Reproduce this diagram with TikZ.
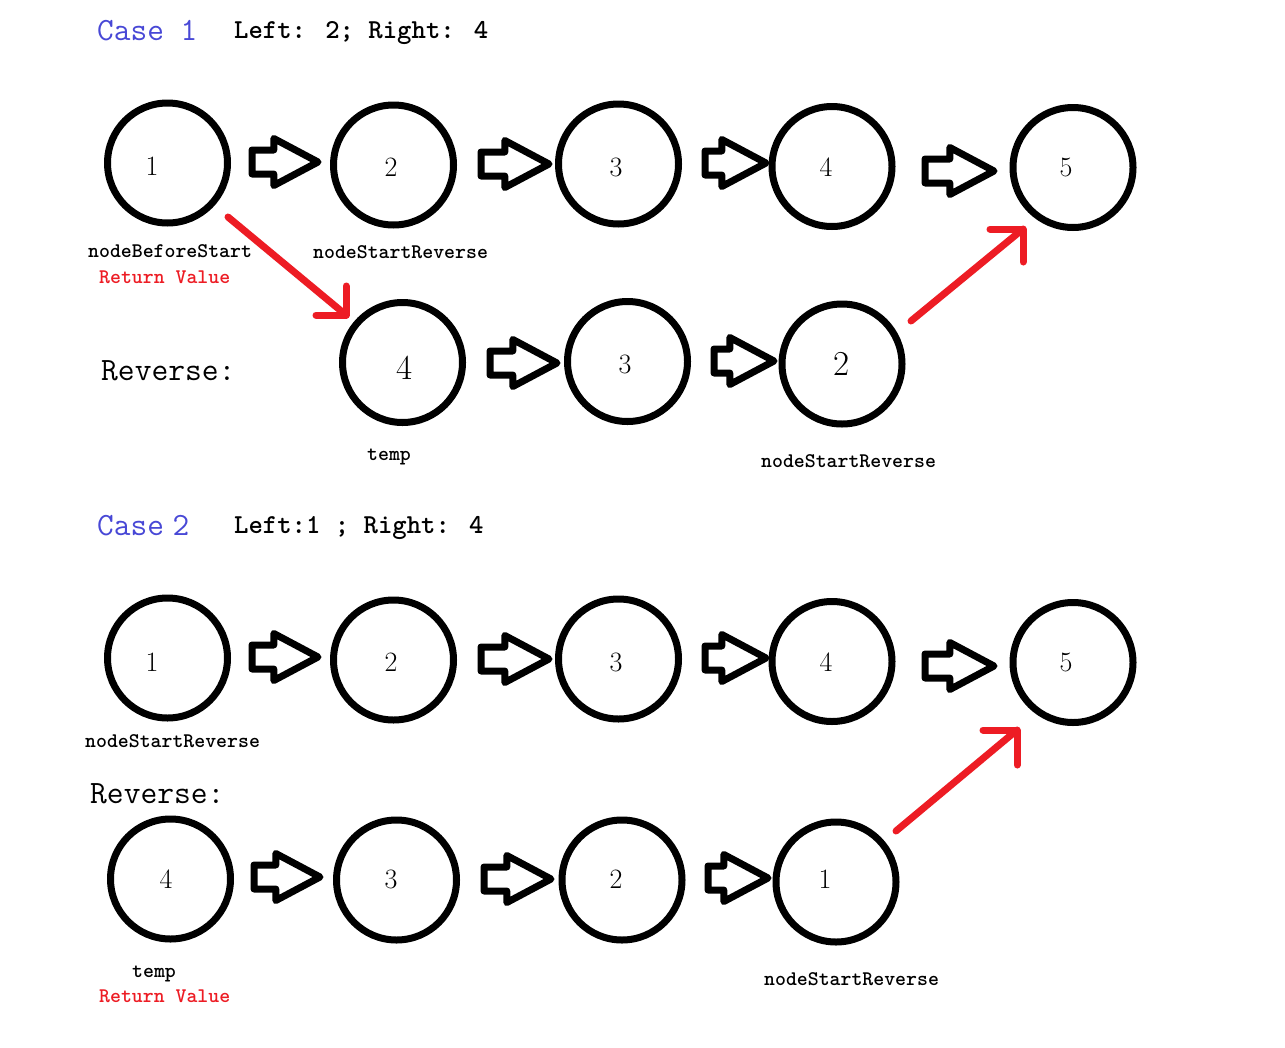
\documentclass[tikz,border=0pt]{standalone}
\usetikzlibrary{shapes.arrows}
\definecolor{caseblue}{RGB}{72,72,214}
\definecolor{paintred}{RGB}{237,28,36}
\begin{document}
\begin{tikzpicture}[x=1pt,y=-1pt,
  cnode/.style={circle,draw=black,line width=7pt,minimum size=120pt,inner sep=0pt},
  num/.style={font=\fontsize{28}{30}\selectfont},
  bignum/.style={font=\fontsize{35}{37}\selectfont},
  harrow/.style={single arrow,draw=black,line width=7pt,line join=round,
    inner sep=8.5pt,minimum width=0pt,single arrow head extend=11.5pt,
    single arrow tip angle=56,anchor=tail},
  lbl/.style={font=\ttfamily\bfseries\fontsize{20.8}{22}\selectfont,anchor=base west,inner sep=0pt},
  title/.style={font=\ttfamily\bfseries\fontsize{27.4}{30}\selectfont,anchor=base west,inner sep=0pt},
  casettl/.style={font=\ttfamily\fontsize{32.4}{34}\selectfont,text=caseblue,anchor=base west,inner sep=0pt},
  revttl/.style={font=\ttfamily\fontsize{32.6}{34}\selectfont,anchor=base west,inner sep=0pt},
  redarrow/.style={draw=paintred,line width=7pt,line cap=round,line join=round}
]
\useasboundingbox[fill=white] (0,0) rectangle (1285,1047);

% ---------- Case 1 ----------
\node[casettl] (case1) at (97,40) {Case 1};
\node[title] (lr1) at (234,38) {Left: 2; Right: 4};

\node[cnode] (a1) at (167.5,163) {};
\node[cnode] (a2) at (393.5,165) {};
\node[cnode] (a3) at (618.5,164) {};
\node[cnode] (a4) at (832,166.5) {};
\node[cnode] (a5) at (1073,167.5) {};
\node[num] (na1) at (152,166) {1};
\node[num] (na2) at (391,167) {2};
\node[num] (na3) at (616,167) {3};
\node[num] (na4) at (826,167) {4};
\node[num] (na5) at (1066,167) {5};

\node[harrow,minimum height=66pt] (h1) at (248.5,162) {};
\node[harrow,minimum height=68pt] (h2) at (477.5,164) {};
\node[harrow,minimum height=61pt] (h3) at (701.5,163) {};
\node[harrow,minimum height=69pt] (h4) at (921.5,171) {};

\node[lbl] (lbs) at (88,257) {nodeBeforeStart};
\node[lbl,text=paintred] (rv1) at (99,283) {Return Value};
\node[lbl] (lsr1) at (313,258) {nodeStartReverse};

\node[revttl] (rev1) at (101,380) {Reverse:};
\node[cnode] (b4) at (402.5,362.5) {};
\node[cnode] (b3) at (627.5,361.5) {};
\node[cnode] (b2) at (842,364) {};
\node[bignum] (nb4) at (405,368) {4};
\node[num] (nb3) at (625,364) {3};
\node[bignum] (nb2) at (842,364) {2};
\node[harrow,minimum height=67pt] (h5) at (486.5,363) {};
\node[harrow,minimum height=60pt] (h6) at (710.5,361) {};

\node[lbl] (ltemp1) at (367,460) {temp};
\node[lbl] (lsr2) at (761,467) {nodeStartReverse};

% red arrows case 1
\coordinate (r1s) at (228,217);
\coordinate (r1t) at (346,315);
\draw[redarrow] (r1s) -- (r1t);
\draw[redarrow] ([xshift=-30pt]r1t) -- (r1t) -- ([yshift=29pt]r1t);
\coordinate (r2s) at (911,321);
\coordinate (r2t) at (1023,229);
\draw[redarrow] (r2s) -- (r2t);
\draw[redarrow] ([xshift=-33pt]r2t) -- (r2t) -- ([yshift=-33pt]r2t);

% ---------- Case 2 ----------
\node[casettl] (case2) at (97,535) {Case\hspace{-8pt} 2};
\node[title] (lr2) at (234,533) {Left:1 ; Right: 4};

\node[cnode] (c1) at (167.5,658) {};
\node[cnode] (c2) at (393.5,660) {};
\node[cnode] (c3) at (618.5,659) {};
\node[cnode] (c4) at (832,661.5) {};
\node[cnode] (c5) at (1073,662.5) {};
\node[num] (nc1) at (152,662) {1};
\node[num] (nc2) at (391,662) {2};
\node[num] (nc3) at (616,662) {3};
\node[num] (nc4) at (826,662) {4};
\node[num] (nc5) at (1066,662) {5};

\node[harrow,minimum height=66pt] (h7) at (248.5,657) {};
\node[harrow,minimum height=68pt] (h8) at (477.5,659) {};
\node[harrow,minimum height=61pt] (h9) at (701.5,658) {};
\node[harrow,minimum height=69pt] (h10) at (921.5,666) {};

\node[lbl] (lsr3) at (85,747) {nodeStartReverse};
\node[revttl] (rev2) at (90,803) {Reverse:};

\node[cnode] (d4) at (170.5,879) {};
\node[cnode] (d3) at (396.5,880) {};
\node[cnode] (d2) at (622,880) {};
\node[cnode] (d1) at (836,882) {};
\node[num] (nd4) at (166,879) {4};
\node[num] (nd3) at (391,879) {3};
\node[num] (nd2) at (616,879) {2};
\node[num] (nd1) at (825,879) {1};
\node[harrow,minimum height=66pt] (h11) at (250.5,877) {};
\node[harrow,minimum height=67pt] (h12) at (480.5,879) {};
\node[harrow,minimum height=60pt] (h13) at (704.5,878) {};

\node[lbl] (ltemp2) at (132,977) {temp};
\node[lbl,text=paintred] (rv2) at (99,1002) {Return Value};
\node[lbl] (lsr4) at (764,985) {nodeStartReverse};

\coordinate (r3s) at (896,831);
\coordinate (r3t) at (1017,730);
\draw[redarrow] (r3s) -- (r3t);
\draw[redarrow] ([xshift=-34pt]r3t) -- (r3t) -- ([yshift=-35pt]r3t);
\end{tikzpicture}
\end{document}
